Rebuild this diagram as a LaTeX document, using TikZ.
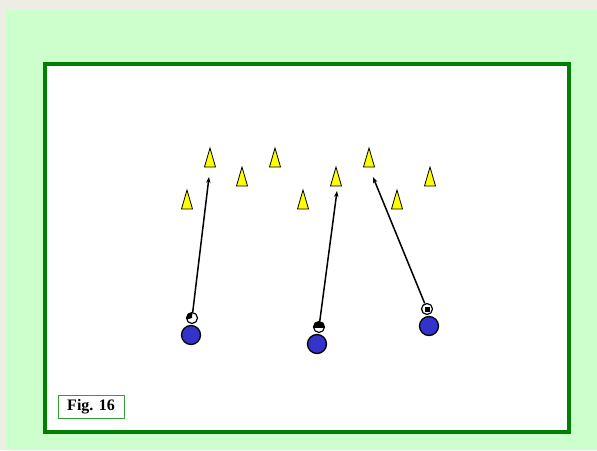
\documentclass[tikz,border=0pt]{standalone}
\usepackage{fontspec}
\setmainfont{Liberation Serif}
\usetikzlibrary{arrows.meta}

\definecolor{edgegray}{HTML}{EEEDE5}
\definecolor{pitchgreen}{HTML}{CCFFCC}
\definecolor{linegreen}{HTML}{008000}
\definecolor{labelgreen}{HTML}{33A033}
\definecolor{playerblue}{HTML}{3333CC}
\definecolor{coneyellow}{HTML}{FFFF00}

\begin{document}
\begin{tikzpicture}[x=1pt, y=-1pt,
    player/.style={circle, draw, line width=1.3pt, fill=playerblue, minimum size=19pt, inner sep=0pt},
    ball/.style={circle, draw, line width=1.2pt, fill=white, minimum size=11pt, inner sep=0pt},
    run/.style={line width=1.5pt, -{Stealth[length=6pt, width=4.5pt]}},
    figlabel/.style={draw=labelgreen, line width=1pt, fill=white, minimum width=66pt, minimum height=23pt,
        inner sep=0pt, font=\fontsize{16}{18}\selectfont\bfseries},
    cone/.pic={\draw[line width=0.8pt, fill=coneyellow] (-5.5,0) -- (0,-19) -- (5.5,0) -- cycle;}]

    \useasboundingbox (0,0) rectangle (597,450);
    \fill[edgegray] (0,0) rectangle (597,450);
    \fill[pitchgreen] (6,10) rectangle (597,450);
    \draw[line width=4pt, linegreen, fill=white] (45,64) rectangle (569,432);

    % cones
    \pic at (210,167) {cone};
    \pic at (275,167) {cone};
    \pic at (369,167) {cone};
    \pic at (242,186) {cone};
    \pic at (336,186) {cone};
    \pic at (430,186) {cone};
    \pic at (187,209) {cone};
    \pic at (303,209) {cone};
    \pic at (397,209) {cone};

    % players and balls
    \node[player] (p1) at (191,335) {};
    \node[player] (p2) at (317,344) {};
    \node[player] (p3) at (429,326) {};

    \node[ball, path picture={\fill[black] (path picture bounding box.center) -- ++(0.5,-7) -- ++(-7,0) -- ++(0,9) -- cycle;}] (b1) at (192,318) {};
    \node[ball, path picture={\fill[black] (path picture bounding box.center) ++(-7,-7) rectangle ++(14,7.5);}] (b2) at (319,327) {};
    \node[ball, path picture={\fill[black] ([shift={(-2.5,-2.5)}]path picture bounding box.center) rectangle ++(5,5);}] (b3) at (427,309) {};

    % runs
    \coordinate (t1) at (209,177);
    \coordinate (t2) at (337,191);
    \coordinate (t3) at (373,177);
    \draw[run] (b1) -- (t1);
    \draw[run] (b2) -- (t2);
    \draw[run] (b3) -- (t3);

    \node[figlabel] (fig) at (91,406.5) {Fig. 16};
\end{tikzpicture}
\end{document}
